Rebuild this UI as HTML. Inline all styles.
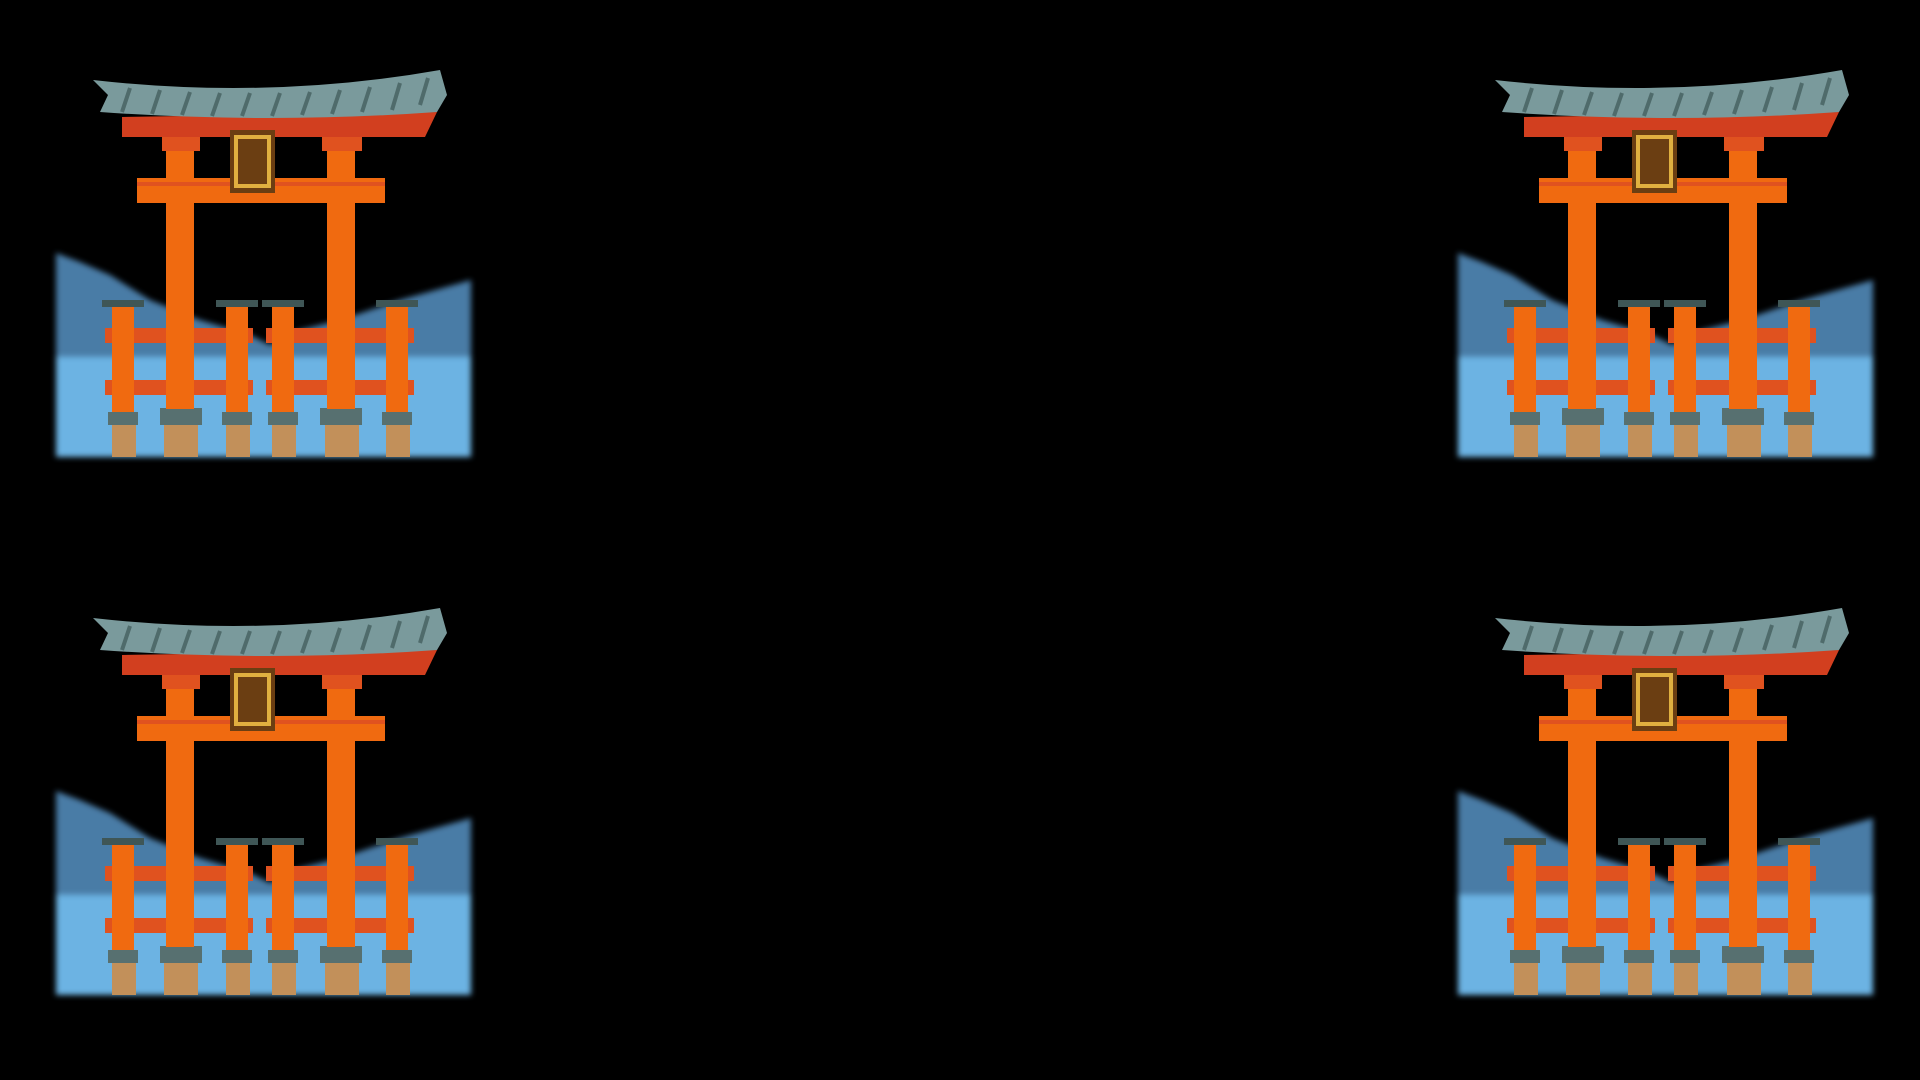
<!DOCTYPE html>
<html><head><style>html,body{margin:0;background:#000;width:1920px;height:1080px;overflow:hidden}</style></head>
<body>
<svg width="1920" height="1080" viewBox="0 0 1920 1080" xmlns="http://www.w3.org/2000/svg">
<defs>
<filter id="b" x="-5%" y="-5%" width="110%" height="110%"><feGaussianBlur stdDeviation="3"/></filter>
<g id="t">
 <g filter="url(#b)">
  <path d="M56,253 L80,262 L110,275 L150,300 L200,320 L250,335 L270,345 L300,330 L340,320 L400,300 L471,280 L471,357 L56,357Z" fill="#4a7ba6"/>
  <rect x="56" y="357" width="415" height="100" fill="#6cb3e3"/>
 </g>
 <!-- reflections -->
 <g fill="#c2905a">
  <rect x="112" y="425" width="24" height="32"/><rect x="164" y="425" width="34" height="32"/>
  <rect x="226" y="425" width="24" height="32"/><rect x="272" y="425" width="24" height="32"/>
  <rect x="325" y="425" width="34" height="32"/><rect x="386" y="425" width="24" height="32"/>
 </g>
 <!-- small beams -->
 <g fill="#e0521f">
  <rect x="105" y="328" width="148" height="15"/><rect x="266" y="328" width="148" height="15"/>
  <rect x="105" y="380" width="148" height="15"/><rect x="266" y="380" width="148" height="15"/>
 </g>
 <!-- small pillars -->
 <g fill="#f06a10">
  <rect x="112" y="303" width="22" height="110"/><rect x="226" y="303" width="22" height="110"/>
  <rect x="272" y="303" width="22" height="110"/><rect x="386" y="303" width="22" height="110"/>
 </g>
 <g fill="#3f5656">
  <rect x="102" y="300" width="42" height="7"/><rect x="216" y="300" width="42" height="7"/>
  <rect x="262" y="300" width="42" height="7"/><rect x="376" y="300" width="42" height="7"/>
 </g>
 <g fill="#577070">
  <rect x="108" y="412" width="30" height="13"/><rect x="222" y="412" width="30" height="13"/>
  <rect x="268" y="412" width="30" height="13"/><rect x="382" y="412" width="30" height="13"/>
  <rect x="160" y="408" width="42" height="17"/><rect x="320" y="408" width="42" height="17"/>
 </g>
 <!-- main pillars -->
 <g fill="#f06a10">
  <rect x="166" y="137" width="28" height="272"/><rect x="327" y="137" width="28" height="272"/>
  <rect x="137" y="178" width="248" height="25"/>
 </g>
 <g fill="#e0521f">
  <rect x="162" y="137" width="38" height="14"/><rect x="322" y="137" width="40" height="14"/>
  <rect x="137" y="182" width="248" height="4"/>
 </g>
 <path d="M122,117 L437,112 L425,137 L122,137Z" fill="#d23f1f"/>
 <path d="M93,80 Q270,100 440,70 L447,95 L437,112 Q270,124 100,112 L108,95Z" fill="#7a9a9c"/>
 <g stroke="#4f6b6b" stroke-width="4">
  <line x1="130" y1="88" x2="122" y2="112"/><line x1="160" y1="90" x2="152" y2="114"/><line x1="190" y1="92" x2="182" y2="115"/>
  <line x1="220" y1="93" x2="212" y2="116"/><line x1="250" y1="93" x2="242" y2="116"/><line x1="280" y1="93" x2="272" y2="116"/>
  <line x1="310" y1="92" x2="302" y2="115"/><line x1="340" y1="90" x2="332" y2="114"/><line x1="370" y1="87" x2="362" y2="112"/>
  <line x1="400" y1="83" x2="392" y2="110"/><line x1="428" y1="78" x2="420" y2="105"/>
 </g>
 <rect x="230" y="130" width="45" height="63" fill="#6b3e12"/>
 <rect x="236" y="137" width="33" height="49" fill="none" stroke="#e0b040" stroke-width="4"/>
</g>
</defs>
<use href="#t"/>
<use href="#t" x="1402"/>
<use href="#t" y="538"/>
<use href="#t" x="1402" y="538"/>
</svg>
</body></html>
